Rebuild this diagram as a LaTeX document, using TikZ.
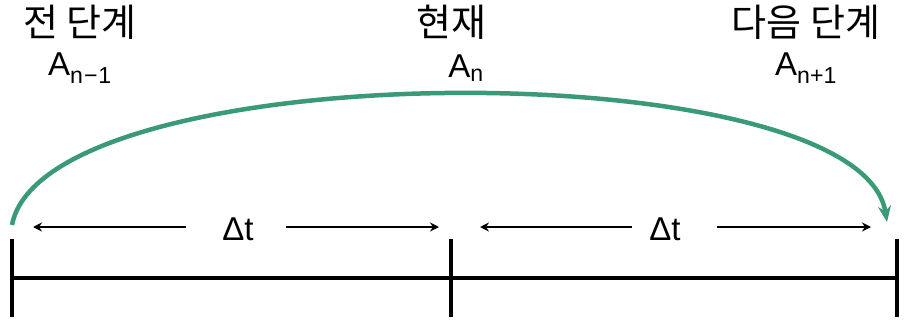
\documentclass[tikz,border=0pt]{standalone}
\usepackage{fontspec}
\setmainfont{Liberation Sans}
\newfontfamily\krfont{Noto Sans CJK KR}
\usetikzlibrary{arrows.meta,calc,positioning}
\definecolor{arcGreen}{HTML}{3A9A76}

\begin{document}
\begin{tikzpicture}[
  x=1pt, y=-1pt,
  >={Stealth[length=9pt, width=9pt]},
  stagelabel/.style={font=\fontsize{38}{40}\selectfont\krfont, inner sep=0pt},
  symlabel/.style={font=\fontsize{33}{36}\selectfont, inner sep=0pt},
  gaplabel/.style={font=\fontsize{33}{36}\selectfont, inner sep=0pt},
  tick/.style={line width=3.2pt},
  axis/.style={line width=3.2pt},
  span/.style={->, line width=2.3pt},
  jump/.style={-{Stealth[length=16pt, width=13pt]}, draw=arcGreen, line width=4.5pt}
]
\useasboundingbox (0,0) rectangle (910,321);

% stage labels
\node[stagelabel] (prevname) at (80,22) {전 단계};
\node[stagelabel] (curname) at (451,22) {현재};
\node[stagelabel] (nextname) at (806,22) {다음 단계};
\node[symlabel] (prevsym) at (80,68) {A\textsubscript{n\kern1pt−\kern1pt1}};
\node[symlabel] (cursym) at (466,68) {A\textsubscript{n}};
\node[symlabel] (nextsym) at (806,68) {A\textsubscript{n+1}};

% time axis
\coordinate (t0) at (12,278);
\coordinate (t1) at (451,278);
\coordinate (t2) at (897,278);
\draw[axis] (t0) -- (t2);
\foreach \t in {t0,t1,t2}
  \draw[tick] ($(\t)+(0,-39)$) -- ($(\t)+(0,39)$);

% step widths
\node[gaplabel] (gapL) at (238,229) {Δt};
\node[gaplabel] (gapR) at (665,229) {Δt};
\coordinate (l0) at (33,227);
\coordinate (l1) at (439,227);
\coordinate (r0) at (480,227);
\coordinate (r1) at (871,227);
\draw[span] (186,227) -- (l0);
\draw[span] (286,227) -- (l1);
\draw[span] (632,227) -- (r0);
\draw[span] (717,227) -- (r1);

% jump arc
\coordinate (arcstart) at (12,225);
\coordinate (arcend) at (887,222);
\draw[jump] (arcstart) .. controls (45,52) and (860,50) .. (arcend);
\end{tikzpicture}
\end{document}
